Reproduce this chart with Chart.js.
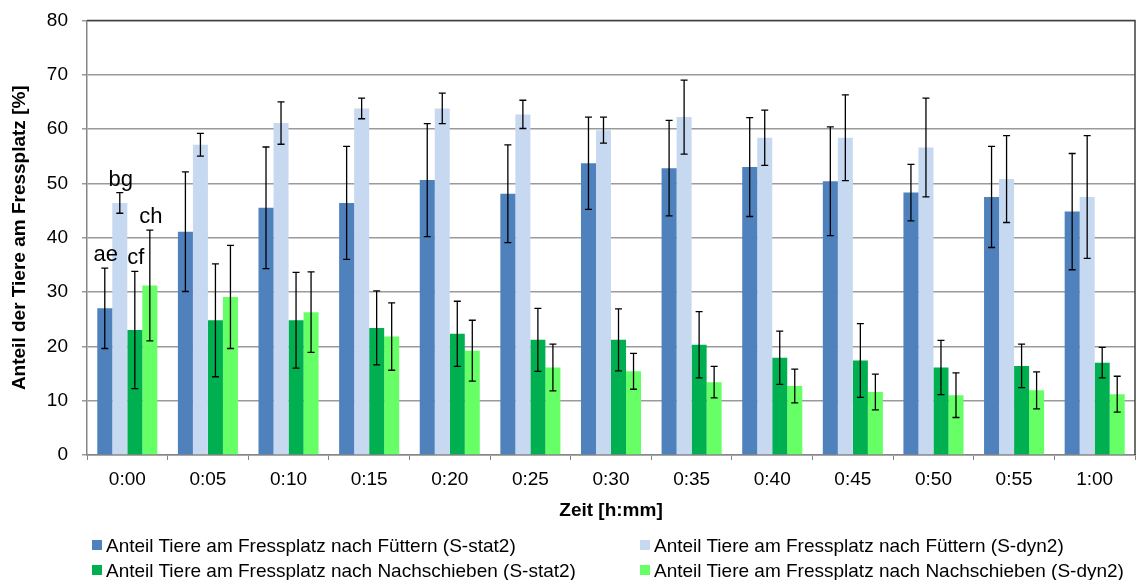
<!DOCTYPE html>
<html>
<head>
<meta charset="utf-8">
<script src="https://cdn.jsdelivr.net/npm/chart.js@4/dist/chart.umd.min.js"></script>
<style>
  html, body { margin: 0; padding: 0; background: #fff; overflow: hidden; }
  #wrap { position: relative; width: 1136px; height: 580px; overflow: hidden; }
  #chart { position: absolute; left: 0; top: -5px; }
  #legend { position: absolute; left: 0; top: 0; width: 1136px; height: 580px; font-family: 'Liberation Sans', Arial, sans-serif; font-size: 19px; color: #000; pointer-events: none; }
  .item { position: absolute; white-space: nowrap; line-height: 24px; height: 24px; }
  .box { display: inline-block; width: 10px; height: 10px; margin-right: 4px; vertical-align: middle; position: relative; top: -2px; }
</style>
</head>
<body>
<div id="wrap">
  <canvas id="chart" width="1136" height="585"></canvas>
  <div id="legend"></div>
</div>
<script>
const categories = ['0:00', '0:05', '0:10', '0:15', '0:20', '0:25', '0:30', '0:35', '0:40', '0:45', '0:50', '0:55', '1:00'];

const seriesNames = [
  'Anteil Tiere am Fressplatz nach Füttern (S-stat2)',
  'Anteil Tiere am Fressplatz nach Füttern (S-dyn2)',
  'Anteil Tiere am Fressplatz nach Nachschieben (S-stat2)',
  'Anteil Tiere am Fressplatz nach Nachschieben (S-dyn2)'
];
const colors = ['#4F81BD', '#C6D9F1', '#00B050', '#66FF66'];

const feedStat = [27.0, 41.1, 45.5, 46.4, 50.6, 48.1, 53.7, 52.8, 53.0, 50.4, 48.3, 47.5, 44.8];
const feedStatSd = [7.4, 11.0, 11.2, 10.4, 10.4, 9.0, 8.5, 8.8, 9.1, 10.0, 5.2, 9.3, 10.7];
const feedDyn = [46.4, 57.1, 61.1, 63.8, 63.8, 62.7, 59.8, 62.2, 58.4, 58.4, 56.6, 50.8, 47.5];
const feedDynSd = [1.9, 2.1, 3.9, 1.9, 2.8, 2.6, 2.4, 6.8, 5.1, 7.9, 9.1, 8.0, 11.3];
const pushStat = [23.0, 24.8, 24.8, 23.4, 22.3, 21.2, 21.2, 20.3, 17.9, 17.4, 16.1, 16.4, 17.0];
const pushStatSd = [10.8, 10.4, 8.8, 6.8, 6.0, 5.8, 5.7, 6.1, 4.9, 6.8, 5.0, 4.0, 2.8];
const pushDyn = [31.2, 29.1, 26.3, 21.8, 19.2, 16.1, 15.4, 13.4, 12.7, 11.6, 11.0, 11.9, 11.2];
const pushDynSd = [10.2, 9.5, 7.4, 6.2, 5.6, 4.3, 3.3, 2.9, 3.1, 3.3, 4.1, 3.4, 3.3];

// significance letters on the first time point
const letters = ['ae', 'bg', 'cf', 'ch'];

const values = [feedStat, feedDyn, pushStat, pushDyn];
const sds = [feedStatSd, feedDynSd, pushStatSd, pushDynSd];

const fontFam = "'Liberation Sans', Arial, sans-serif";
Chart.defaults.font.family = fontFam;
Chart.defaults.color = '#000';

const errorBars = {
  id: 'errorBars',
  afterDatasetsDraw(chart) {
    const ctx = chart.ctx;
    const y = chart.scales.y;
    ctx.save();
    ctx.strokeStyle = '#000';
    ctx.lineWidth = 1.3;
    chart.data.datasets.forEach((ds, di) => {
      const meta = chart.getDatasetMeta(di);
      meta.data.forEach((bar, i) => {
        const v = ds.data[i], sd = sds[di][i];
        const yt = y.getPixelForValue(v + sd);
        const yb = y.getPixelForValue(v - sd);
        ctx.beginPath();
        ctx.moveTo(bar.x, yt); ctx.lineTo(bar.x, yb);
        ctx.moveTo(bar.x - 3.5, yt); ctx.lineTo(bar.x + 3.5, yt);
        ctx.moveTo(bar.x - 3.5, yb); ctx.lineTo(bar.x + 3.5, yb);
        ctx.stroke();
        if (i === 0) {
          ctx.fillStyle = '#000';
          ctx.font = '22px ' + fontFam;
          ctx.textAlign = 'center';
          ctx.textBaseline = 'bottom';
          ctx.fillText(letters[di], bar.x + 1, yt - 2);
        }
      });
    });
    // frame on top and right
    const a = chart.chartArea;
    ctx.strokeStyle = '#404040';
    ctx.lineWidth = 1.5;
    ctx.beginPath();
    ctx.moveTo(a.left, a.top); ctx.lineTo(a.right, a.top); ctx.lineTo(a.right, a.bottom);
    ctx.stroke();
    ctx.restore();
  }
};

new Chart(document.getElementById('chart'), {
  type: 'bar',
  data: {
    labels: categories,
    datasets: values.map((v, i) => ({
      label: seriesNames[i],
      data: v,
      backgroundColor: colors[i],
      borderWidth: 0
    }))
  },
  options: {
    responsive: false,
    animation: false,
    datasets: { bar: { barPercentage: 1, categoryPercentage: 0.745 } },
    layout: { padding: { top: 5, right: 1, left: 0, bottom: 0 } },
    plugins: { legend: { display: false }, tooltip: { enabled: false } },
    scales: {
      x: {
        grid: { drawOnChartArea: false, drawTicks: true, tickLength: 5, color: '#868686', offset: true },
        border: { color: '#868686', width: 1.5 },
        ticks: { font: { size: 19 }, padding: 8, maxRotation: 0 },
        title: { display: true, text: 'Zeit [h:mm]', font: { size: 19, weight: 'bold' }, padding: { top: 0, bottom: 58 } },
        afterFit(scale) { scale.height = 125; }
      },
      y: {
        min: 0, max: 80,
        ticks: { stepSize: 10, font: { size: 19 }, padding: 14 },
        grid: { color: '#9a9a9a', lineWidth: 1.5, tickLength: 5, drawTicks: true },
        border: { color: '#868686', width: 1.5 },
        title: { display: true, text: 'Anteil der Tiere am Fressplatz [%]', font: { size: 19, weight: 'bold' }, padding: { top: 8, bottom: 0 } },
        afterFit(scale) { scale.width = 87; }
      }
    }
  },
  plugins: [errorBars]
});

const legend = document.getElementById('legend');
const pos = [[92, 534], [640, 534], [92, 559], [640, 559]];
seriesNames.forEach((name, i) => {
  const d = document.createElement('div');
  d.className = 'item';
  d.style.left = pos[i][0] + 'px';
  d.style.top = pos[i][1] + 'px';
  d.innerHTML = '<span class="box" style="background:' + colors[i] + '"></span>' + name;
  legend.appendChild(d);
});
</script>
</body>
</html>
